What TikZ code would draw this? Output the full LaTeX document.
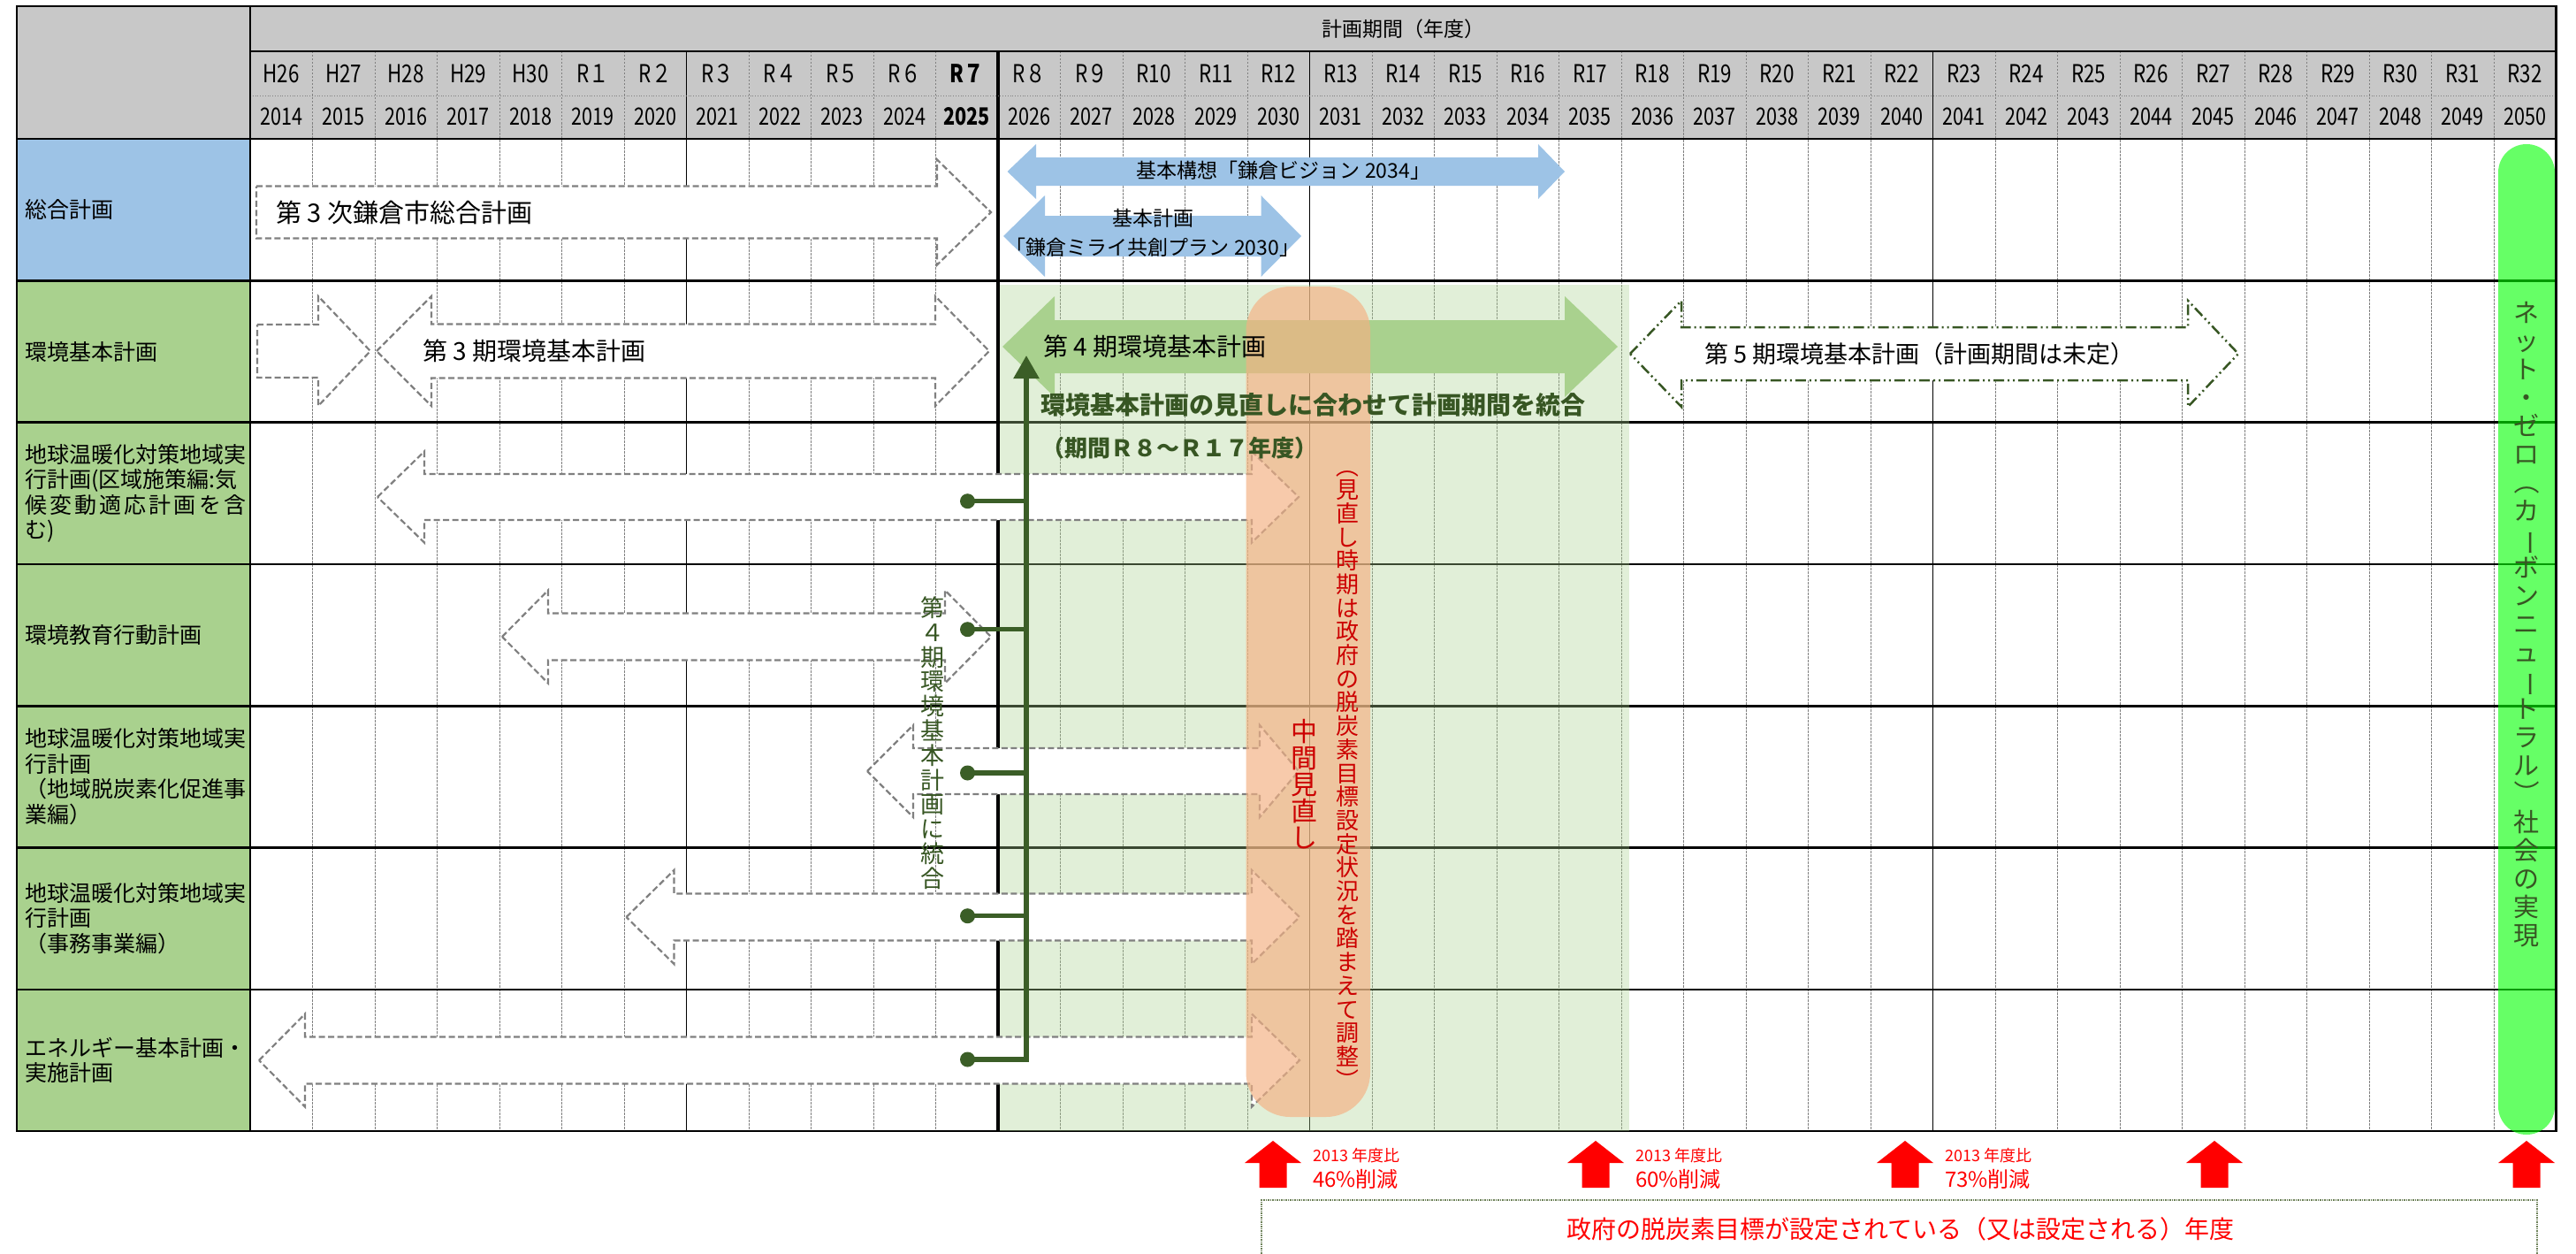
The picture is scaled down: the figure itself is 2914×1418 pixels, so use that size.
\documentclass[tikz,border=0pt]{standalone}
\usepackage{fontspec}
\usepackage{graphicx}
\setmainfont{Noto Sans CJK JP}
\newfontfamily\condfont[FakeStretch=0.8]{Noto Sans CJK JP}
\usetikzlibrary{arrows.meta}

\definecolor{hdrgray}{RGB}{200,200,200}
\definecolor{planblue}{HTML}{9DC3E6}
\definecolor{plangreen}{HTML}{A9D18E}
\definecolor{darkgreen}{HTML}{375623}
\definecolor{linkgreen}{HTML}{3B5E27}
\definecolor{revorange}{HTML}{F4B183}
\definecolor{revred}{HTML}{CC0000}
\definecolor{netgreen}{HTML}{00FF00}
\definecolor{boxolive}{RGB}{110,130,90}

% block arrow with heads at both ends:
% style, left tip x, left head base x, right head base x, right tip x, centre y, half body, half head
\newcommand{\planbiarrow}[8]{%
  \path[#1] (#2,#6) -- (#3,{#6-#8}) -- (#3,{#6-#7}) -- (#4,{#6-#7}) -- (#4,{#6-#8})
    -- (#5,#6) -- (#4,{#6+#8}) -- (#4,{#6+#7}) -- (#3,{#6+#7}) -- (#3,{#6+#8}) -- cycle;}
% block arrow pointing right:
% style, left x, head base x, tip x, centre y, half body, half head
\newcommand{\planarrow}[7]{%
  \path[#1] (#2,{#5-#6}) -- (#3,{#5-#6}) -- (#3,{#5-#7}) -- (#4,#5) -- (#3,{#5+#7})
    -- (#3,{#5+#6}) -- (#2,{#5+#6}) -- cycle;}
% one glyph turned for vertical setting
\newcommand{\vturn}[1]{\smash{\rotatebox[origin=c]{-90}{#1}}}
% fixed pitch for stacked vertical text
\protected\def\fixedpitch{\lineskiplimit=-100pt\relax}

\begin{document}
\begin{tikzpicture}[x=1pt,y=-1pt,
  gridbold/.style={line width=2.6pt,black},
  gridsolid/.style={line width=1.4pt,black},
  griddash/.style={line width=0.8pt,gray,dash pattern=on 2.5pt off 1.5pt},
  oldplan/.style={fill=white,draw=gray,line width=2.2pt,dash pattern=on 7pt off 3.5pt,line join=miter},
  nextplan/.style={fill=white,draw=darkgreen,line width=2.5pt,
    dash pattern=on 12pt off 4pt on 2pt off 4pt on 2pt off 4pt},
  link/.style={draw=linkgreen,line width=5.5pt,line join=miter},
  linkdot/.style={circle,fill=linkgreen,inner sep=0pt,minimum size=17pt},
  txt/.style={inner sep=0pt},
  lbl/.style={txt,anchor=west,align=left,font=\fontsize{25}{28.5}\selectfont},
  era/.style={txt,font=\condfont\fontsize{28}{28}\selectfont},
  yr/.style={txt,font=\condfont\fontsize{27}{27}\selectfont},
  vtxt/.style={txt,align=center}
]
\useasboundingbox (0,0) rectangle (2914,1418);

% ---------- table fills ----------
\fill[hdrgray] (19,7) rectangle (2891.5,157);
\fill[planblue] (19,157) rectangle (283,317.3);
\fill[plangreen] (19,317.3) rectangle (283,1279);

% ---------- grid ----------
\foreach \j in {1,...,36}
  \draw[griddash] ({283+70.5*\j},58) -- ({283+70.5*\j},1279);
\foreach \j in {7,17,27}
  \draw[gridsolid] ({283+70.5*\j},58) -- ({283+70.5*\j},1279);
\draw[line width=4pt] ({283+70.5*12},58) -- ({283+70.5*12},1279);
\draw[line width=0.8pt,gray,dotted] (283,108) -- (2891.5,108);
\draw[gridbold] (283,58) -- (2891.5,58);
\foreach \k in {0,...,6}
  \draw[gridbold] (19,{157+160.3*\k}) -- (2891.5,{157+160.3*\k});
\draw[gridbold] (283,7) -- (283,1279);
\draw[gridbold] (19,7) rectangle (2891.5,1279);

% ---------- header ----------
\node[txt,font=\fontsize{23}{23}\selectfont] (title) at (1587,33) {計画期間（年度）};
\foreach \lab [count=\i from 0] in {H26,H27,H28,H29,H30,R１,R２,R３,R４,R５,R６,\textbf{R７},R８,R９,
    R10,R11,R12,R13,R14,R15,R16,R17,R18,R19,R20,R21,R22,R23,R24,R25,R26,R27,R28,R29,R30,R31,R32}
  \node[era] (era\i) at ({283+70.5*(\i+0.5)},83) {\lab};
\foreach \i in {0,...,36}{
  \pgfmathtruncatemacro\yv{2014+\i}
  \node[yr] (year\i) at ({283+70.5*(\i+0.5)},132) {\ifnum\i=11 \textbf{\yv}\else\yv\fi};
}

% ---------- row labels ----------
\node[lbl] (lab1) at (28,237.2) {総合計画};
\node[lbl] (lab2) at (28,397.5) {環境基本計画};
\node[lbl] (lab3) at (28,557.8) {地球温暖化対策地域実\\行計画(区域施策編:気\\
  \makebox[250pt][s]{候\hfill 変\hfill 動\hfill 適\hfill 応\hfill 計\hfill 画\hfill を\hfill 含}\\む)};
\node[lbl] (lab4) at (28,718) {環境教育行動計画};
\node[lbl] (lab5) at (28,878.3) {地球温暖化対策地域実\\行計画\\（地域脱炭素化促進事\\業編）};
\node[lbl] (lab6) at (28,1038.6) {地球温暖化対策地域実\\行計画\\（事務事業編）};
\node[lbl] (lab7) at (28,1199) {エネルギー基本計画・\\実施計画};

% ---------- period under the 4th environment plan ----------
\fill[plangreen,opacity=0.35] (1131,322) rectangle (1843,1279);

% ---------- plan arrows ----------
\planarrow{oldplan}{290}{1060}{1121}{240}{29.5}{59.5}
\planbiarrow{fill=planblue}{1139.5}{1172}{1740}{1770}{194}{16}{31}
\planbiarrow{fill=planblue}{1135}{1182}{1426.5}{1472}{267}{23}{46}

\planarrow{oldplan}{291}{360}{419}{397}{30}{62}
\planbiarrow{oldplan}{426}{488}{1058}{1119}{397}{30.5}{62}
\planbiarrow{fill=plangreen}{1134}{1193}{1770}{1830}{392}{30}{57}
\planbiarrow{nextplan}{1844}{1902}{2475}{2532}{400}{30}{60}

\planbiarrow{oldplan}{427}{480}{1416}{1469}{562}{26}{51.5}
\planbiarrow{oldplan}{568}{620}{1069}{1121}{720}{26.5}{52.5}
\planbiarrow{oldplan}{981}{1033}{1425}{1469}{872}{26}{52}
\planbiarrow{oldplan}{708.5}{762.5}{1416}{1470}{1037}{26.5}{53}
\planbiarrow{oldplan}{293}{345}{1416}{1470}{1199}{26.5}{52.5}

% ---------- mid-term review band and net-zero band ----------
\fill[revorange,opacity=0.67,rounded corners=50pt] (1409.5,324) rectangle (1550,1263);
\fill[netgreen,opacity=0.6,rounded corners=32pt] (2826,163) rectangle (2890,1283);

% ---------- merge links into the 4th plan ----------
\coordinate (j3) at (1161,566.7);
\coordinate (j4) at (1161,711.7);
\coordinate (j5) at (1161,874);
\coordinate (j6) at (1161,1035.7);
\coordinate (j7) at (1161,1198);
\coordinate (jtop) at (1161,402);
\node[linkdot] (d3) at (1094.5,566.7) {};
\node[linkdot] (d4) at (1094.5,711.7) {};
\node[linkdot] (d5) at (1094.5,874) {};
\node[linkdot] (d6) at (1094.5,1035.7) {};
\node[linkdot] (d7) at (1094.5,1198) {};
\draw[link,-{Triangle[width=28pt,length=26pt]}] (d7.center) -- (j7) -- (jtop);
\foreach \r in {3,4,5,6}
  \draw[link] (d\r.center) -- (j\r);

% ---------- arrow texts ----------
\node[txt,anchor=west,font=\fontsize{29}{29}\selectfont] (t3rd) at (312,240) {第 3 次鎌倉市総合計画};
\node[txt,font=\fontsize{23}{23}\selectfont] (tvision) at (1452,193) {基本構想「鎌倉ビジョン 2034」};
\node[txt,align=center,font=\fontsize{23}{33}\selectfont] (tmirai) at (1304,263) {基本計画\\「鎌倉ミライ共創プラン 2030」};
\node[txt,anchor=west,font=\fontsize{28}{28}\selectfont] (tenv3) at (478,397) {第 3 期環境基本計画};
\node[txt,anchor=west,font=\fontsize{28}{28}\selectfont] (tenv4) at (1180,392) {第 4 期環境基本計画};
\node[txt,anchor=west,font=\fontsize{27}{27}\selectfont] (tenv5) at (1928,400) {第 5 期環境基本計画（計画期間は未定）};
\node[txt,anchor=west,text=darkgreen,font=\bfseries\fontsize{28}{28}\selectfont] (tmerge) at (1177,458)
  {環境基本計画の見直しに合わせて計画期間を統合};
\node[txt,anchor=west,text=darkgreen,font=\bfseries\fontsize{26}{26}\selectfont] (tperiod) at (1178,507)
  {（期間Ｒ８～Ｒ１７年度）};

% ---------- vertical texts ----------
\node[vtxt,text=darkgreen,font=\fontsize{27}{27.8}\selectfont\fixedpitch] (vmerge) at (1055,840)
  {第\\４\\期\\環\\境\\基\\本\\計\\画\\に\\統\\合};
\node[vtxt,text=revred,font=\fontsize{26}{26.7}\selectfont\fixedpitch] (vadjust) at (1524,884)
  {\vturn{（}\\見\\直\\し\\時\\期\\は\\政\\府\\の\\脱\\炭\\素\\目\\標\\設\\定\\状\\況\\を\\踏\\ま\\え\\て\\調\\整\\\vturn{）}};
\node[vtxt,text=revred,font=\fontsize{30}{30}\selectfont\fixedpitch] (vmid) at (1475,887)
  {中\\間\\見\\直\\し};
\node[vtxt,text=darkgreen,font=\fontsize{29}{32}\selectfont\fixedpitch] (vnet) at (2858,706)
  {ネ\\ッ\\ト\\・\\ゼ\\ロ\\\vturn{（}\\カ\\\vturn{ー}\\ボ\\ン\\ニ\\ュ\\\vturn{ー}\\ト\\ラ\\ル\\\vturn{）}\\社\\会\\の\\実\\現};

% ---------- target years ----------
\foreach \x in {1440,1805,2155,2505,2858}
  \fill[red] ({\x-15.5},1343) -- ({\x-15.5},1315) -- ({\x-32},1315) -- (\x,1290)
    -- ({\x+32},1315) -- ({\x+15.5},1315) -- ({\x+15.5},1343) -- cycle;
\foreach \x/\v [count=\n] in {1485/46,1850/60,2200/73}{
  \node[txt,anchor=west,text=red,font=\fontsize{18}{18}\selectfont] (base\n) at (\x,1307) {2013 年度比};
  \node[txt,anchor=west,text=red,font=\fontsize{24}{24}\selectfont] (cut\n) at (\x,1333) {\v\%削減};
}
\draw[boxolive,line width=1.5pt,densely dotted] (1427,1430) -- (1427,1357) -- (2870,1357) -- (2870,1430);
\node[txt,text=red,font=\fontsize{28}{28}\selectfont] (tgov) at (2150,1390)
  {政府の脱炭素目標が設定されている（又は設定される）年度};
\end{tikzpicture}
\end{document}
